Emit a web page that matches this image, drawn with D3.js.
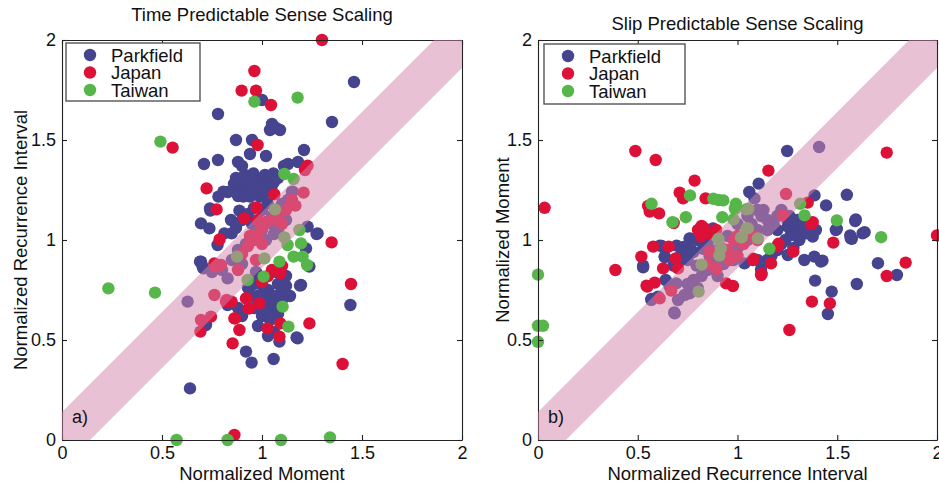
<!DOCTYPE html>
<html>
<head>
<meta charset="utf-8">
<script src="https://cdn.jsdelivr.net/npm/d3@7"></script>
<style>
  body { margin: 0; background: #fff; }
  svg { display: block; }
  text { font-family: "Liberation Sans", Arial, Helvetica, sans-serif; fill: #111; }
</style>
</head>
<body>
<svg id="chart" width="939" height="484"></svg>
<script>
// Series names and colours
const seriesNames = ["Parkfield", "Japan", "Taiwan"];
const seriesColors = ["#46448f", "#dd1138", "#57b649"];

// Shared axis ticks
const tickValues = [0, 0.5, 1, 1.5, 2];
const tickLabels = ["0", "0.5", "1", "1.5", "2"];

// Half width of the 1:1 reference band (normalized units)
const bandHalfWidth = 0.14;

// Panel a: x = normalized moment, y = normalized recurrence interval
const timeParkfield = [
  [1.46,1.79],[1.35,1.59],[0.78,1.63],[1.00,1.70],[1.05,1.58],[1.07,1.56],[1.09,1.55],[1.04,1.55],
  [0.87,1.50],[0.95,1.50],[0.94,1.43],[1.02,1.42],[1.21,1.45],[0.78,1.40],[0.71,1.38],[0.88,1.39],
  [0.90,1.37],[1.13,1.38],[1.18,1.39],[1.11,1.37],
  [0.87,1.31],[0.915,1.325],[0.957,1.333],[1.015,1.325],[1.057,1.333],[0.898,1.283],[0.94,1.292],
  [0.982,1.30],[1.015,1.275],[0.882,1.25],[0.932,1.25],[0.973,1.258],[1.048,1.267],[0.94,1.217],
  [0.99,1.217],[0.907,1.217],[0.86,1.28],[0.92,1.27],[0.96,1.31],[1.0,1.30],[1.04,1.30],[0.90,1.31],
  [1.08,1.31],[0.95,1.24],[1.02,1.24],[0.93,1.30],[0.98,1.27],[1.03,1.28],[0.88,1.22],[1.06,1.29],
  [0.807,1.242],[0.782,1.217],[0.83,1.24],[0.74,1.158],[0.695,1.083],[0.737,1.058],[0.742,1.147],
  [0.845,1.10],[0.887,1.147],[1.028,1.183],[0.812,1.033],[0.778,0.975],[1.278,1.033],[1.228,1.067],
  [1.22,0.958],[0.695,0.892],[0.703,0.867],[1.195,0.775],[1.237,0.867],[1.442,0.675],[0.64,0.258],
  [0.72,0.575],[0.828,0.675],[0.92,0.442],[0.948,0.387],[1.058,0.405],[1.087,0.492],[1.178,0.508],
  [0.848,1.033],[0.87,1.06],[0.90,1.10],[0.93,1.13],[0.96,1.16],[1.0,1.15],[1.05,1.12],[1.08,1.15],
  [1.10,1.18],[1.13,1.20],[1.15,1.24],[1.12,1.10],[1.0,1.05],[0.97,1.02],[1.06,1.03],[0.95,1.08],
  [0.97,0.84],[1.0,0.78],[1.03,0.75],[1.06,0.72],[1.08,0.78],[1.10,0.74],[0.98,0.72],[1.02,0.68],
  [1.05,0.66],[1.08,0.63],[1.0,0.62],[0.96,0.66],[1.04,0.60],[1.10,0.70],[1.12,0.82],[1.07,0.84],
  [0.93,0.76],[0.96,0.78],[1.14,0.72],[1.06,0.54],[1.03,0.52],[0.98,0.57],[0.90,0.62],[0.88,0.66],
  [0.99,0.80],[1.04,0.70],[1.01,0.64],[1.07,0.68],[0.95,0.72],[1.12,0.77],[1.0,0.73],
  [0.823,0.692],[0.69,0.892],[0.707,0.858],[1.19,0.772],[1.173,0.513],[1.273,1.03],
  [0.628,0.692],[0.828,0.808],[0.80,0.85],[0.85,0.90],[0.88,0.95],[0.92,0.98],[0.95,1.0],[0.98,1.05],
  [1.05,1.08],[1.10,1.12],[1.153,1.242],[0.75,0.84],[0.90,0.88],[1.02,1.0],[1.08,1.05]
];
const timeJapan = [
  [1.30,2.0],[0.962,1.845],[0.898,1.747],[0.97,1.747],[1.045,1.675],[0.553,1.462],[0.978,1.475],
  [1.228,1.372],[0.723,1.258],[1.062,1.228],[0.773,1.153],[0.973,1.163],[0.912,1.108],[0.788,1.003],
  [1.348,0.988],[0.762,0.883],[1.445,0.78],[1.403,0.38],[0.692,0.542],[0.82,0.692],[0.862,0.608],
  [0.887,0.55],[0.853,0.483],[0.92,0.708],[0.937,0.658],[0.987,0.683],[1.028,0.558],[1.087,0.517],
  [1.092,0.583],[1.237,0.583],[1.092,0.833],[0.862,0.025],[0.848,0.692],[0.923,0.708],[0.932,0.658],
  [0.865,0.608],[1.0,0.79],[1.05,0.85],[1.10,0.87],[1.03,0.82],
  [1.215,1.35],[1.208,1.237],[1.167,1.172],[0.795,0.875],[0.762,0.725],[0.695,0.60],[0.745,0.617],
  [0.823,0.70],[0.765,0.867],[0.96,1.0],[0.98,1.03],[1.0,1.06],[1.02,1.09],[1.05,1.10],[0.93,0.97],
  [0.94,1.02],[1.0,0.98],[0.90,0.93],[1.08,1.12],[1.12,1.15],[1.10,1.08],[0.98,1.10],[1.15,1.20],
  [0.88,0.85],[0.97,0.90]
];
const timeTaiwan = [
  [0.962,1.692],[1.178,1.712],[0.492,1.492],[0.232,0.758],[0.465,0.737],[0.573,0.0],[0.828,0.0],
  [1.095,0.0],[1.34,0.013],[1.112,1.33],[1.158,1.305],[1.065,1.153],[1.112,1.013],[1.128,0.975],
  [1.187,1.05],[1.195,0.983],[1.158,0.917],[1.203,0.917],[1.225,0.875],[0.875,0.917],[1.012,0.908],
  [0.928,0.80],[1.087,0.892],[1.008,0.817],[1.103,0.667],[1.132,0.567]
];

// Panel b: x = normalized recurrence interval, y = normalized moment
const slipParkfield = [
  [1.249,1.445],[1.409,1.465],[1.106,1.282],[1.059,1.24],[1.085,1.208],[1.548,1.226],[1.386,1.223],
  [1.444,1.173],[1.593,1.103],[1.637,1.039],[1.498,1.056],[1.565,1.023],[1.573,1.006],[1.426,0.897],
  [1.389,0.797],[1.598,0.78],[1.704,0.884],[1.799,0.825],[1.453,0.63],[1.252,1.067],[1.293,1.067],
  [1.327,1.092],[1.368,1.075],[1.393,1.05],[1.268,1.025],[1.31,1.0],[1.343,1.033],[1.377,1.017],
  [1.252,0.925],[1.335,0.90],[1.385,0.917],[1.418,0.892],[1.472,0.742],[1.493,1.05],[1.59,1.095],
  [1.568,1.008],[1.627,1.033],[1.118,0.853],[1.035,0.883],[1.20,0.95],[1.17,0.92],[1.22,0.98],
  [1.24,1.0],[1.28,0.96],[1.15,0.90],[1.10,0.90],[1.30,1.10],[1.26,1.12],
  [1.25,1.10],[1.30,1.05],[1.33,1.07],[1.28,1.04],[1.15,1.05],[1.20,1.05],
  [0.527,0.872],[0.569,0.705],[0.611,0.972],[0.636,0.914],[0.695,0.972],[0.678,0.872],[0.762,1.006],
  [0.778,0.939],[0.828,0.956],[0.795,0.872],[0.76,1.008],[0.735,0.967],[0.768,0.95],[0.635,0.917],
  [0.62,0.97],[0.527,0.863],[0.568,0.70],[0.602,0.717],[0.66,0.767],[0.693,0.783],[0.877,1.058],
  [0.72,0.93],[0.80,1.0],[0.85,0.98],[0.70,0.88],[0.75,0.90],[0.64,0.80],
  [0.683,0.638],[0.685,0.633],[0.702,0.70],[0.735,0.725],[0.76,0.733],[0.78,0.80],[0.82,0.82],
  [0.85,0.85],[0.80,0.76],[0.75,0.78],[0.88,0.90],[0.95,0.92],[1.0,0.96],[1.05,1.0],[1.10,1.05],
  [1.15,1.10],[1.20,1.12],[1.13,1.15],[1.18,1.08],[1.07,1.08],[0.98,0.90],[0.93,0.88],[1.12,1.12],
  [1.22,1.15],[0.90,0.82],[0.90,0.95],[0.95,1.02],[1.0,1.08],[1.05,1.12],[1.10,1.15],[0.86,0.92]
];
const slipJapan = [
  [0.033,1.161],[0.488,1.445],[0.59,1.40],[0.785,1.297],[1.155,1.347],[1.748,1.437],[2.0,1.023],
  [0.388,0.85],[0.518,0.917],[0.71,1.237],[0.727,1.208],[0.552,1.17],[0.56,1.142],[0.607,1.133],
  [0.577,0.967],[0.655,0.967],[0.544,0.772],[0.585,0.787],[0.548,0.767],[0.627,0.858],[0.69,0.908],
  [0.702,0.858],[0.84,1.208],[0.68,1.085],[0.802,1.05],[0.835,1.058],[0.86,1.033],[0.818,1.017],
  [0.893,1.05],[0.82,1.07],[0.943,0.783],[0.977,0.77],[1.121,0.83],[1.08,0.906],[1.205,0.981],
  [1.28,0.942],[1.352,1.187],[1.368,1.08],[1.377,1.089],[1.48,0.987],[1.843,0.887],[1.748,0.82],
  [1.373,0.692],[1.463,0.683],[1.26,0.55],[1.118,0.825],[1.077,0.90],[1.168,0.883],[1.20,0.967],
  [1.243,1.23],[1.227,1.125],[0.61,0.708],[0.668,0.747],[0.893,0.858],[0.86,0.942],[0.895,0.855],
  [0.95,0.95],[0.98,1.0],[1.0,1.02],[1.03,0.98],[1.05,1.05],[0.92,0.96],[0.96,0.90],[1.08,1.02],
  [0.85,0.88],[1.0,0.92],[1.10,1.0]
];
const slipTaiwan = [
  [0.0,0.827],[0.0,0.571],[0.025,0.571],[0.0,0.491],[0.569,1.181],[0.762,1.223],[0.879,1.206],
  [0.929,1.198],[0.905,1.20],[0.992,1.181],[0.987,1.156],[0.674,1.089],[0.741,1.114],[0.924,1.114],
  [1.16,0.956],[1.498,1.098],[1.72,1.014],[1.336,1.123],[1.314,1.181],[0.99,1.167],[1.043,1.153],
  [0.98,1.103],[0.904,1.006],[0.916,0.959],[0.909,0.922],[0.82,0.877],[0.805,0.742],[1.021,1.014],
  [1.046,1.059],[1.054,1.156],[1.052,1.058],[1.018,1.013],[1.102,1.008]
];

const panels = [
  {
    title: "Time Predictable Sense Scaling", titleY: 21,
    xLabel: "Normalized Moment", yLabel: "Normalized Recurrence Interval", yLabelX: 20,
    tag: "a)", left: 62, width: 400,
    sets: [timeParkfield, timeJapan, timeTaiwan],
    legend: { x: 66, y: 43, w: 134, h: 58 }
  },
  {
    title: "Slip Predictable Sense Scaling", titleY: 30,
    xLabel: "Normalized Recurrence Interval", yLabel: "Normalized Moment", yLabelX: 502,
    tag: "b)", left: 538, width: 399,
    sets: [slipParkfield, slipJapan, slipTaiwan],
    legend: { x: 544, y: 44, w: 141, h: 60 }
  }
];

const svg = d3.select("#chart");
const plotTop = 40, plotBottom = 440;
const pointRadius = 6.2;

panels.forEach((p, pi) => {
  const x = d3.scaleLinear().domain([0, 2]).range([p.left, p.left + p.width]);
  const y = d3.scaleLinear().domain([0, 2]).range([plotBottom, plotTop]);
  const g = svg.append("g");

  // Points: Parkfield, then Japan, then Taiwan on top
  p.sets.forEach((data, si) => {
    g.append("g").selectAll("circle").data(data).join("circle")
      .attr("cx", d => x(d[0])).attr("cy", d => y(d[1])).attr("r", pointRadius)
      .attr("fill", seriesColors[si]);
  });

  // Axes with inward ticks on all four sides
  const fmt = (d, i) => tickLabels[i];
  const axB = d3.axisBottom(x).tickValues(tickValues).tickFormat(fmt).tickSizeInner(-5).tickSizeOuter(0).tickPadding(6);
  const axL = d3.axisLeft(y).tickValues(tickValues).tickFormat(fmt).tickSizeInner(-5).tickSizeOuter(0).tickPadding(6);
  const axT = d3.axisTop(x).tickValues(tickValues).tickFormat("").tickSizeInner(-5).tickSizeOuter(0);
  const axR = d3.axisRight(y).tickValues(tickValues).tickFormat("").tickSizeInner(-5).tickSizeOuter(0);
  const styleAxis = sel => {
    sel.selectAll("path,line").attr("stroke", "#222").attr("stroke-width", 1.1);
    sel.selectAll("text").attr("font-size", 18).attr("fill", "#111")
      .attr("font-family", '"Liberation Sans", Arial, Helvetica, sans-serif');
  };
  g.append("g").attr("transform", `translate(0,${plotBottom})`).call(axB).call(styleAxis);
  g.append("g").attr("transform", `translate(${p.left},0)`).call(axL).call(styleAxis);
  g.append("g").attr("transform", `translate(0,${plotTop})`).call(axT).call(styleAxis);
  g.append("g").attr("transform", `translate(${p.left + p.width},0)`).call(axR).call(styleAxis);

  // Translucent 1:1 band, clipped to the plot box
  const clipId = "clip" + pi;
  svg.append("clipPath").attr("id", clipId).append("rect")
    .attr("x", p.left).attr("y", plotTop).attr("width", p.width).attr("height", plotBottom - plotTop);
  const b = bandHalfWidth;
  const bandPts = [[-1, -1 + b], [3, 3 + b], [3, 3 - b], [-1, -1 - b]];
  g.append("path")
    .attr("clip-path", `url(#${clipId})`)
    .attr("d", d3.line().x(d => x(d[0])).y(d => y(d[1]))(bandPts) + "Z")
    .attr("fill", "rgb(212,132,172)").attr("fill-opacity", 0.5);

  // Legend
  const L = p.legend;
  g.append("rect").attr("x", L.x).attr("y", L.y).attr("width", L.w).attr("height", L.h)
    .attr("fill", "#fff").attr("stroke", "#555").attr("stroke-width", 1.4);
  seriesNames.forEach((name, si) => {
    const cy = L.y + 12 + si * 17.5;
    g.append("circle").attr("cx", L.x + 24).attr("cy", cy).attr("r", pointRadius).attr("fill", seriesColors[si]);
    g.append("text").attr("x", L.x + 45).attr("y", cy).attr("dy", "0.36em")
      .attr("font-size", 18.5).text(name);
  });

  // Titles and labels
  const cx = p.left + p.width / 2;
  g.append("text").attr("x", cx).attr("y", p.titleY).attr("text-anchor", "middle")
    .attr("font-size", 18.5).text(p.title);
  g.append("text").attr("x", cx).attr("y", 480).attr("text-anchor", "middle")
    .attr("font-size", 18.5).text(p.xLabel);
  g.append("text").attr("transform", `translate(${p.yLabelX},${(plotTop + plotBottom) / 2}) rotate(-90)`)
    .attr("text-anchor", "middle").attr("dy", "0.36em").attr("font-size", 18.5).text(p.yLabel);
  g.append("text").attr("x", p.left + 10).attr("y", 423).attr("font-size", 18).text(p.tag);
});
</script>
</body>
</html>
